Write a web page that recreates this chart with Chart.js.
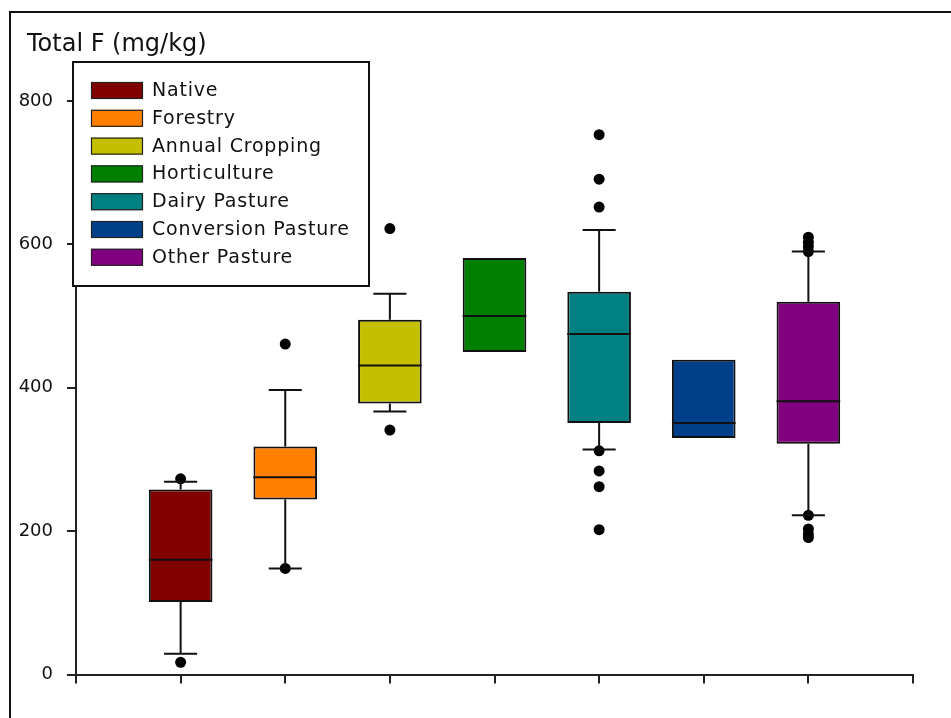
<!DOCTYPE html>
<html>
<head>
<meta charset="utf-8">
<script src="https://cdn.jsdelivr.net/npm/chart.js@4/dist/chart.umd.min.js"></script>
<style>
  html, body { margin: 0; padding: 0; background: #fff; }
  #wrap { position: relative; width: 951px; height: 718px; overflow: hidden; }
  #frame { position: absolute; left: 9px; top: 11px; width: 960px; height: 720px;
           border-left: 2px solid #111; border-top: 2px solid #111; box-sizing: border-box; }
  canvas { position: absolute; left: 0; top: 0; }
</style>
</head>
<body>
<div id="wrap">
  <div id="frame"></div>
  <canvas id="c" width="951" height="718"></canvas>
</div>
<script>
// ---- data ----
const categories = ['Native', 'Forestry', 'Annual Cropping', 'Horticulture', 'Dairy Pasture', 'Conversion Pasture', 'Other Pasture'];
const q1Values = [101, 244, 378, 450, 351, 330, 322];
const medianValues = [160, 275, 431, 500, 475, 351, 381];
const q3Values = [258, 318, 495, 581, 534, 439, 520];
const whiskerLow = [29, 148, 367, null, 314, null, 222];
const whiskerHigh = [269, 397, 531, null, 620, null, 590];
const outlierValues = [
  [17, 273],
  [148, 461],
  [341, 622],
  [],
  [312, 284, 262, 202, 652, 691, 753],
  [],
  [222, 203, 196, 191, 590, 597, 603, 610]
];
const yTickValues = [0, 200, 400, 600, 800];
const titleText = 'Total F (mg/kg)';

// ---- styles ----
const palette = ['#800000', '#FF8000', '#C4C000', '#008000', '#008080', '#00408A', '#800080'];
const FONT = '"DejaVu Sans", Verdana, sans-serif';

const boxDatasets = categories.map((name, i) => ({
  type: 'bar',
  label: name,
  data: [{ x: i + 1, y: [q1Values[i], q3Values[i]] }],
  backgroundColor: palette[i],
  borderColor: '#111',
  borderWidth: 2,
  borderSkipped: false,
  grouped: false,
  barPercentage: 0.76,
  categoryPercentage: 0.8,
  order: 1
}));

const outlierPoints = [];
outlierValues.forEach((arr, i) => arr.forEach(v => outlierPoints.push({ x: i + 1, y: v })));

const outlierDataset = {
  type: 'scatter',
  label: 'outliers',
  data: outlierPoints,
  pointStyle: 'circle',
  pointRadius: 5.5,
  pointBackgroundColor: '#000',
  pointBorderColor: '#000',
  pointBorderWidth: 0,
  order: -1
};

const allDatasets = [outlierDataset, ...boxDatasets];
const BOX_OFFSET = 1; // index of the first box dataset

const boxPlotPlugin = {
  id: 'boxPlotParts',
  afterDatasetsDraw(chart) {
    const ctx = chart.ctx;
    const y = chart.scales.y;
    ctx.save();
    ctx.strokeStyle = '#111';
    ctx.lineWidth = 2;
    categories.forEach((name, i) => {
      const bar = chart.getDatasetMeta(i + BOX_OFFSET).data[0];
      if (!bar) return;
      const cx = bar.x, hw = bar.width / 2, capHw = bar.width * 0.26;
      const my = y.getPixelForValue(medianValues[i]);
      ctx.beginPath(); ctx.moveTo(cx - hw, my); ctx.lineTo(cx + hw, my); ctx.stroke();
      if (whiskerHigh[i] != null) {
        const t = y.getPixelForValue(q3Values[i]), w = y.getPixelForValue(whiskerHigh[i]);
        ctx.beginPath(); ctx.moveTo(cx, t); ctx.lineTo(cx, w);
        ctx.moveTo(cx - capHw, w); ctx.lineTo(cx + capHw, w); ctx.stroke();
      }
      if (whiskerLow[i] != null) {
        const b = y.getPixelForValue(q1Values[i]), w = y.getPixelForValue(whiskerLow[i]);
        ctx.beginPath(); ctx.moveTo(cx, b); ctx.lineTo(cx, w);
        ctx.moveTo(cx - capHw, w); ctx.lineTo(cx + capHw, w); ctx.stroke();
      }
    });
    ctx.restore();
  }
};

const titleLegendPlugin = {
  id: 'titleAndLegend',
  afterDraw(chart) {
    const ctx = chart.ctx;
    ctx.save();
    // title
    ctx.fillStyle = '#111';
    ctx.font = '24px ' + FONT;
    ctx.textBaseline = 'alphabetic';
    ctx.textAlign = 'left';
    ctx.fillText(titleText, 27, 51);
    // legend box
    const left = 73, top = 62, width = 296, height = 224;
    ctx.fillStyle = '#fff';
    ctx.fillRect(left, top, width, height);
    ctx.strokeStyle = '#111';
    ctx.lineWidth = 2;
    ctx.strokeRect(left, top, width, height);
    ctx.font = '19px ' + FONT;
    if ('letterSpacing' in ctx) ctx.letterSpacing = '0.8px';
    ctx.textBaseline = 'middle';
    categories.forEach((name, i) => {
      const sy = 82 + i * 27.8;
      ctx.fillStyle = palette[i];
      ctx.fillRect(91, sy, 52, 17);
      ctx.lineWidth = 1.2;
      ctx.strokeStyle = '#222';
      ctx.strokeRect(91.5, sy + 0.5, 51, 16);
      ctx.fillStyle = '#111';
      ctx.fillText(name, 152, sy + 9);
    });
    ctx.restore();
  }
};

new Chart(document.getElementById('c'), {
  type: 'bar',
  data: { datasets: allDatasets },
  plugins: [boxPlotPlugin, titleLegendPlugin],
  options: {
    responsive: false,
    animation: false,
    events: [],
    layout: { padding: { left: 6, right: 38, top: 101, bottom: 33.5 } },
    plugins: {
      legend: { display: false },
      tooltip: { enabled: false },
      title: { display: false }
    },
    scales: {
      x: {
        type: 'linear',
        min: 0,
        max: 8,
        offset: false,
        ticks: { display: false, stepSize: 1 },
        grid: { display: true, offset: false, drawOnChartArea: false, drawTicks: true, tickLength: 9, color: '#222', lineWidth: 2 },
        border: { display: true, color: '#222', width: 2 },
        afterFit(s) { s.height = 10; }
      },
      y: {
        type: 'linear',
        min: 0,
        max: 800,
        afterBuildTicks(s) { s.ticks = yTickValues.map(v => ({ value: v })); },
        ticks: { color: '#111', padding: 14, font: { family: FONT, size: 18 } },
        grid: { display: true, drawOnChartArea: false, drawTicks: true, tickLength: 9, color: '#222', lineWidth: 2 },
        border: { display: true, color: '#222', width: 2 },
        afterFit(s) { s.width = 70; }
      }
    }
  }
});
</script>
</body>
</html>
